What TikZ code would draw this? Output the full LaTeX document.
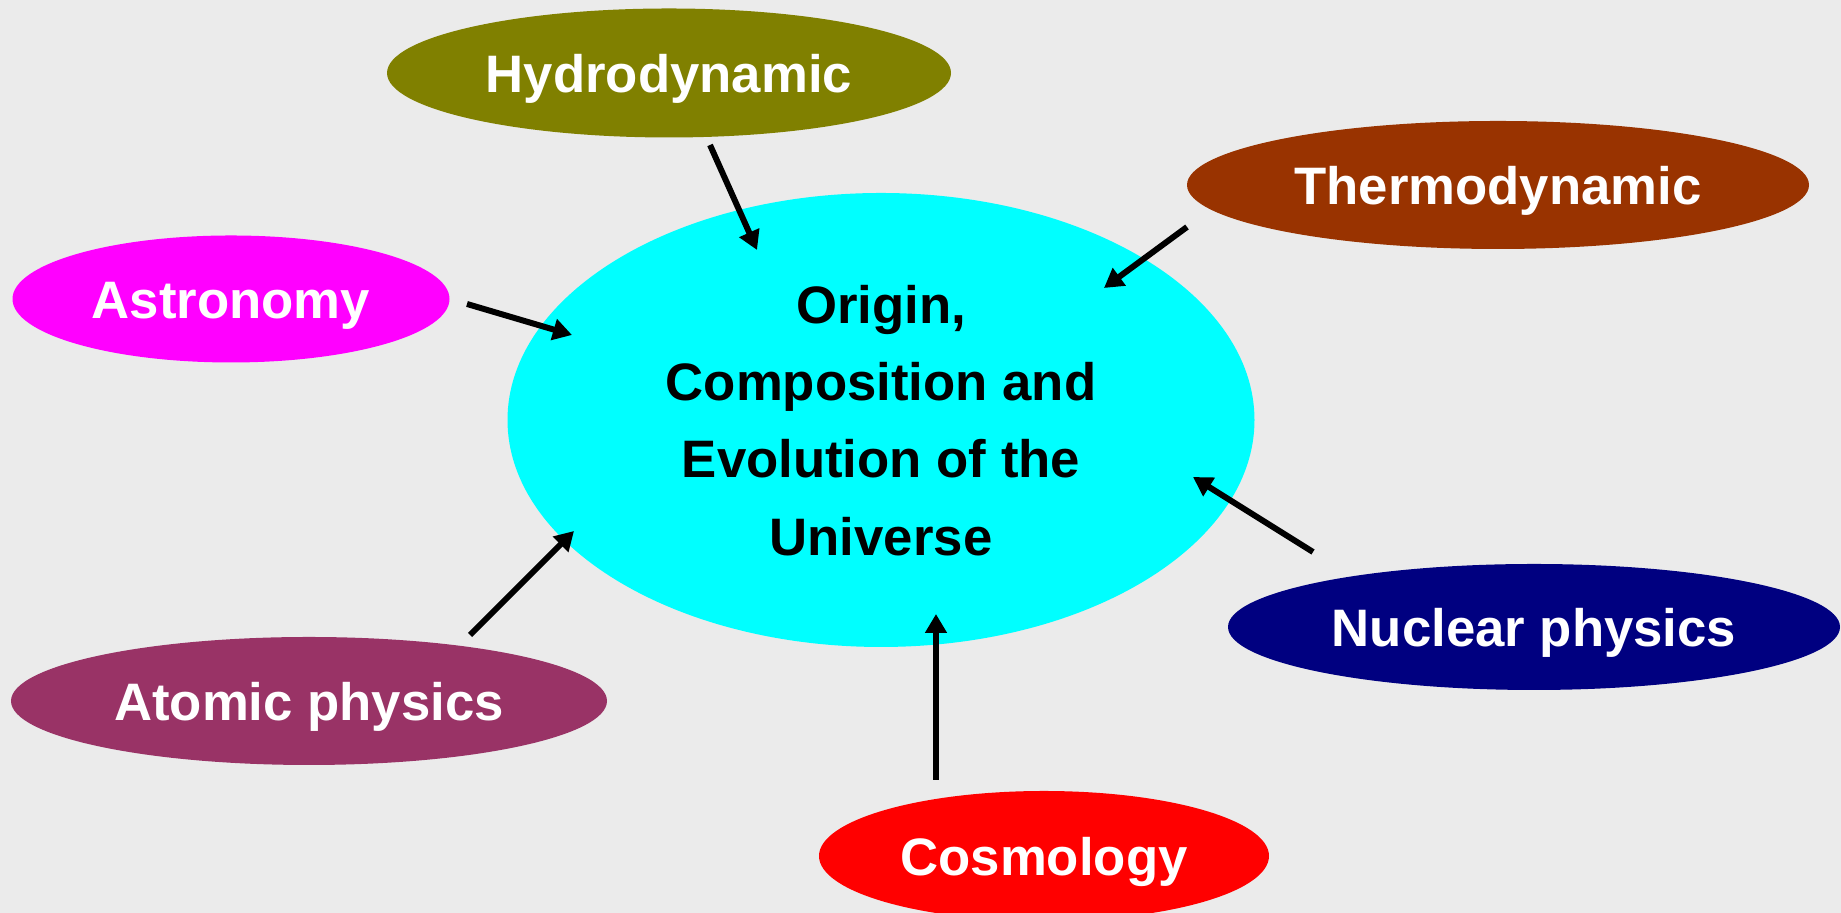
\documentclass[tikz,border=0pt]{standalone}
\usepackage{fontspec}
\setmainfont{Liberation Sans}
\usepackage{tikz}
\usetikzlibrary{shapes.geometric,arrows.meta,positioning}
\definecolor{bggray}{RGB}{235,235,235}
\definecolor{olivegreen}{RGB}{128,128,0}
\definecolor{rust}{RGB}{153,51,0}
\definecolor{plum}{RGB}{153,51,102}
\definecolor{navyblue}{RGB}{0,0,128}
\definecolor{pink}{RGB}{255,0,255}
\definecolor{aqua}{RGB}{0,255,255}
\definecolor{brightred}{RGB}{255,0,0}

\begin{document}
\begin{tikzpicture}[
    topic/.style={ellipse, inner sep=0pt, text=white,
        text height=0.45cm, text depth=0.05cm,
        font=\fontsize{15}{18}\selectfont\bfseries},
    core/.style={ellipse, inner sep=0pt, fill=aqua, text=black, align=center,
        minimum width=7.47cm, minimum height=4.54cm, text depth=-0.27cm,
        font=\fontsize{15}{22}\selectfont\bfseries},
    link/.style={line width=1.7pt, -{Triangle[length=0.19cm,width=0.21cm]}}
]
            %Background
            \fill[bggray] (0,0) rectangle (18.41,9.13);
            \useasboundingbox (0,0) rectangle (18.41,9.13);
            \clip (0,0) rectangle (18.41,9.13);
            %Centre
            \node[core] (univ) at (8.81,4.93) {Origin,\\Composition and\\Evolution of the\\Universe};
            %Topics
            \node[topic, fill=olivegreen, minimum width=5.64cm, minimum height=1.29cm] (hydro) at (6.69,8.40) {Hydrodynamic};
            \node[topic, fill=rust, minimum width=6.22cm, minimum height=1.28cm] (thermo) at (14.98,7.28) {Thermodynamic};
            \node[topic, fill=pink, minimum width=4.37cm, minimum height=1.27cm] (astro) at (2.31,6.14) {Astronomy};
            \node[topic, fill=plum, minimum width=5.96cm, minimum height=1.28cm] (atomic) at (3.09,2.12) {Atomic physics};
            \node[topic, fill=navyblue, minimum width=6.12cm, minimum height=1.26cm] (nuclear) at (15.34,2.86) {Nuclear physics};
            \node[topic, fill=brightred, minimum width=4.50cm, minimum height=1.30cm] (cosmo) at (10.44,0.57) {Cosmology};
            %Arrow ends
            \coordinate (hydroA) at (7.10,7.68);
            \coordinate (hydroB) at (7.57,6.63);
            \coordinate (thermoA) at (11.87,6.86);
            \coordinate (thermoB) at (11.04,6.25);
            \coordinate (astroA) at (4.67,6.09);
            \coordinate (astroB) at (5.72,5.78);
            \coordinate (atomicA) at (4.70,2.78);
            \coordinate (atomicB) at (5.74,3.82);
            \coordinate (nuclearA) at (13.13,3.61);
            \coordinate (nuclearB) at (11.93,4.36);
            \coordinate (cosmoA) at (9.36,1.33);
            \coordinate (cosmoB) at (9.36,2.99);
            %Arrows
            \draw[link] (hydroA) -- (hydroB);
            \draw[link] (thermoA) -- (thermoB);
            \draw[link] (astroA) -- (astroB);
            \draw[link] (atomicA) -- (atomicB);
            \draw[link] (nuclearA) -- (nuclearB);
            \draw[link] (cosmoA) -- (cosmoB);
\end{tikzpicture}
\end{document}
